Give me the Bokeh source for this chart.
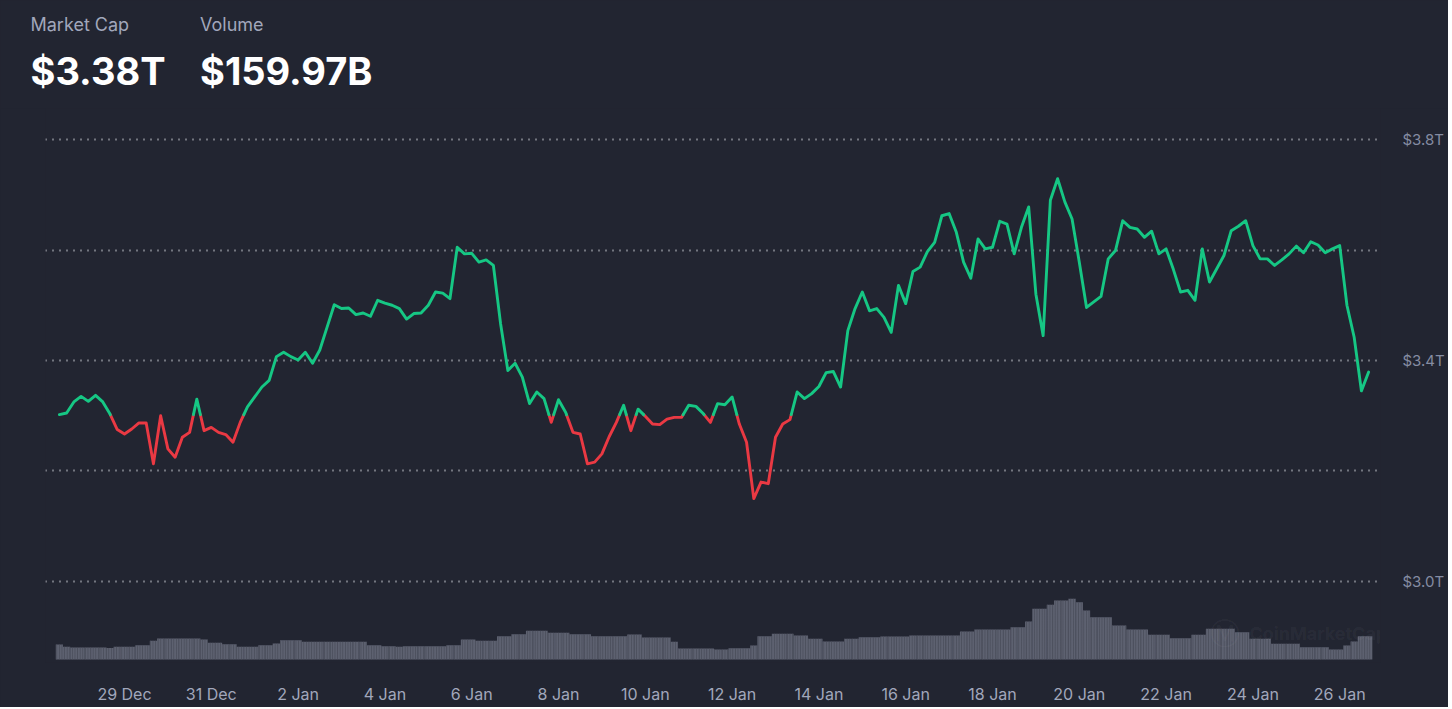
from bokeh.plotting import figure
from bokeh.layouts import column
from bokeh.models import Range1d, FixedTicker, Label
from bokeh.embed import file_html
from bokeh.resources import INLINE

# ---------------- data ----------------
series_start = "2024-12-27 12:00"   # first sample
step_hours = 4                      # sampling step
start_offset_days = -1.5            # first sample relative to 29 Dec 00:00

market_cap_t = [
    3.302, 3.305, 3.325, 3.335, 3.326, 3.337, 3.325, 3.303, 3.275, 3.267,
    3.276, 3.287, 3.287, 3.213, 3.300, 3.240, 3.225, 3.261, 3.270, 3.330,
    3.273, 3.279, 3.270, 3.266, 3.252, 3.288, 3.316, 3.334, 3.352, 3.364,
    3.407, 3.415, 3.407, 3.401, 3.415, 3.395, 3.419, 3.460, 3.501, 3.494,
    3.495, 3.483, 3.486, 3.480, 3.509, 3.504, 3.500, 3.494, 3.475, 3.485,
    3.486, 3.500, 3.524, 3.522, 3.512, 3.605, 3.593, 3.594, 3.578, 3.582,
    3.572, 3.466, 3.382, 3.395, 3.370, 3.322, 3.343, 3.331, 3.288, 3.329,
    3.306, 3.270, 3.267, 3.213, 3.216, 3.231, 3.262, 3.288, 3.319, 3.273,
    3.312, 3.299, 3.285, 3.284, 3.294, 3.297, 3.297, 3.319, 3.317, 3.304,
    3.288, 3.322, 3.320, 3.334, 3.285, 3.252, 3.150, 3.180, 3.177, 3.261,
    3.285, 3.293, 3.343, 3.331, 3.340, 3.353, 3.378, 3.380, 3.352, 3.454,
    3.494, 3.524, 3.490, 3.494, 3.478, 3.451, 3.536, 3.503, 3.561, 3.569,
    3.597, 3.614, 3.662, 3.666, 3.632, 3.578, 3.549, 3.620, 3.602, 3.605,
    3.652, 3.647, 3.593, 3.641, 3.678, 3.520, 3.445, 3.690, 3.729, 3.687,
    3.656, 3.578, 3.496, 3.506, 3.516, 3.584, 3.599, 3.653, 3.641, 3.638,
    3.623, 3.634, 3.593, 3.602, 3.565, 3.524, 3.527, 3.509, 3.602, 3.542,
    3.566, 3.590, 3.635, 3.643, 3.653, 3.608, 3.584, 3.584, 3.572, 3.582,
    3.593, 3.607, 3.595, 3.615, 3.609, 3.595, 3.602, 3.608, 3.500, 3.442,
    3.345, 3.379,
]

volume_b = [
    104, 88, 83, 83, 83, 83, 83, 79, 88, 88,
    88, 99, 99, 129, 145, 145, 145, 145, 145, 145,
    138, 115, 115, 106, 106, 88, 88, 88, 99, 99,
    110, 133, 133, 133, 122, 122, 122, 122, 122, 122,
    122, 122, 122, 99, 99, 92, 92, 88, 92, 92,
    92, 92, 92, 92, 99, 99, 138, 138, 129, 129,
    129, 161, 161, 175, 175, 198, 198, 198, 184, 184,
    184, 175, 175, 175, 161, 161, 161, 161, 161, 173,
    173, 152, 152, 152, 152, 122, 76, 76, 76, 76,
    76, 69, 69, 78, 78, 78, 97, 161, 161, 177,
    177, 177, 166, 166, 143, 143, 124, 124, 124, 143,
    143, 154, 154, 154, 159, 159, 159, 159, 166, 166,
    166, 166, 166, 166, 166, 193, 193, 207, 207, 207,
    207, 207, 223, 223, 262, 350, 350, 377, 407, 407,
    419, 395, 338, 292, 292, 292, 235, 235, 207, 207,
    207, 170, 170, 170, 147, 147, 147, 170, 170, 212,
    212, 212, 212, 188, 188, 143, 143, 143, 108, 108,
    108, 108, 85, 85, 85, 85, 69, 69, 97, 124,
    161, 160,
]

x_tick_days = [0, 2, 4, 6, 8, 10, 12, 14, 16, 18, 20, 22, 24, 26, 28]
x_tick_labels = ["29 Dec", "31 Dec", "2 Jan", "4 Jan", "6 Jan", "8 Jan", "10 Jan",
                 "12 Jan", "14 Jan", "16 Jan", "18 Jan", "20 Jan", "22 Jan",
                 "24 Jan", "26 Jan"]
y_label_ticks = [3.0, 3.4, 3.8]
y_grid_ticks = [3.0, 3.2, 3.4, 3.6, 3.8]
header_titles = ["Market Cap", "Volume"]
header_values = ["$3.38T", "$159.97B"]

# ---------------- styling ----------------
BG = "#222531"
GREEN = "#16c784"
RED = "#ea3943"
FONT = "Inter"
W = 1448
HEAD_H = 108
MAIN_H = 599


def clean(fig):
    fig.background_fill_color = BG
    fig.border_fill_color = BG
    fig.outline_line_color = None


# ---------------- header ----------------
head = figure(width=W, height=HEAD_H, output_backend="svg", toolbar_location=None,
              x_range=Range1d(0, W), y_range=Range1d(HEAD_H, 0),
              x_axis_type=None, y_axis_type=None,
              min_border=0, min_border_left=0, min_border_right=0,
              min_border_top=0, min_border_bottom=0)
head.frame_align = False
clean(head)
head.xgrid.visible = False
head.ygrid.visible = False
for k, (title, val) in enumerate(zip(header_titles, header_values)):
    xo = 30 + k * 169.5
    head.add_layout(Label(x=xo, y=23.5, text=title, text_font=FONT,
                          text_font_size="18px", text_color="#a1a7bb",
                          text_baseline="middle"))
    head.add_layout(Label(x=xo, y=70, text=val, text_font=FONT,
                          text_font_size="38px", text_font_style="bold",
                          text_color="#ffffff", text_baseline="middle"))

# ---------------- main chart ----------------
n = len(market_cap_t)
step_days = step_hours / 24.0
days = [start_offset_days + i * step_days for i in range(n)]

p = figure(width=W, height=MAIN_H, output_backend="svg", toolbar_location=None,
           x_range=Range1d(-1.820, 28.940), y_range=Range1d(2.85339, 3.85611),
           y_axis_location="right",
           min_border_left=45, min_border_right=68,
           min_border_top=0, min_border_bottom=45)
p.frame_align = False
clean(p)

p.extra_y_ranges = {"vol": Range1d(-20.7, 3801.9)}

# volume bars
p.vbar(x=days, top=volume_b, bottom=0, width=step_days, y_range_name="vol",
       fill_color="#5d6170", line_color=None,
       hatch_pattern="|", hatch_color="#474a57", hatch_scale=2.6, hatch_weight=0.8)

# price line coloured against the first value
base = market_cap_t[0]
gx, gy, rx, ry = [], [], [], []
cur_x, cur_y = [days[0]], [market_cap_t[0]]
cur_up = market_cap_t[0] >= base
for i in range(1, n):
    v = market_cap_t[i]
    up = v >= base
    if up == cur_up:
        cur_x.append(days[i]); cur_y.append(v)
    else:
        v0 = market_cap_t[i - 1]
        t = (base - v0) / (v - v0)
        xc = days[i - 1] + t * (days[i] - days[i - 1])
        cur_x.append(xc); cur_y.append(base)
        (gx if cur_up else rx).append(cur_x)
        (gy if cur_up else ry).append(cur_y)
        cur_x, cur_y = [xc, days[i]], [base, v]
        cur_up = up
(gx if cur_up else rx).append(cur_x)
(gy if cur_up else ry).append(cur_y)

p.multi_line(xs=rx, ys=ry, line_color=RED, line_width=2.9,
             line_join="round", line_cap="round")
p.multi_line(xs=gx, ys=gy, line_color=GREEN, line_width=2.9,
             line_join="round", line_cap="round")

# axes
p.xaxis.ticker = FixedTicker(ticks=x_tick_days)
p.xaxis.major_label_overrides = {d: lab for d, lab in zip(x_tick_days, x_tick_labels)}
p.xaxis.axis_line_color = None
p.xaxis.major_tick_line_color = None
p.xaxis.minor_tick_line_color = None
p.xaxis.major_tick_out = 0
p.xaxis.major_tick_in = 0
p.xaxis.minor_tick_out = 0
p.xaxis.major_label_standoff = 21
p.xaxis.major_label_text_font = FONT
p.xaxis.major_label_text_font_size = "16px"
p.xaxis.major_label_text_color = "#a1a7bb"

p.yaxis.ticker = FixedTicker(ticks=y_label_ticks)
p.yaxis.major_label_overrides = {t: "$%.1fT" % t for t in y_label_ticks}
p.yaxis.axis_line_color = None
p.yaxis.major_tick_line_color = None
p.yaxis.minor_tick_line_color = None
p.yaxis.major_tick_out = 0
p.yaxis.major_tick_in = 0
p.yaxis.minor_tick_out = 0
p.yaxis.major_label_standoff = 22
p.yaxis.major_label_text_font = FONT
p.yaxis.major_label_text_font_size = "15px"
p.yaxis.major_label_text_color = "#858ca2"

p.xgrid.visible = False
p.ygrid.ticker = FixedTicker(ticks=y_grid_ticks)
p.ygrid.grid_line_color = "#d6d9e0"
p.ygrid.grid_line_alpha = 0.9
p.ygrid.grid_line_dash = "1 6"
p.ygrid.grid_line_width = 2

# faint watermark (logo + wordmark)
p.add_layout(Label(x=1179, y=29, x_units="screen", y_units="screen", text="\u24c2",
                   text_font="DejaVu Sans", text_font_size="30px", text_align="center",
                   text_color="#ffffff", text_alpha=0.05, text_baseline="middle"))
p.add_layout(Label(x=1204, y=29, x_units="screen", y_units="screen", text="CoinMarketCap",
                   text_font=FONT, text_font_size="18px", text_font_style="bold",
                   text_color="#ffffff", text_alpha=0.05, text_baseline="middle"))

layout = column(head, p, spacing=0)
layout.background = BG

html = file_html(layout, INLINE)
html = html.replace("<body>", '<body style="background-color:#222531;">', 1)
open("out.html", "w").write(html)
